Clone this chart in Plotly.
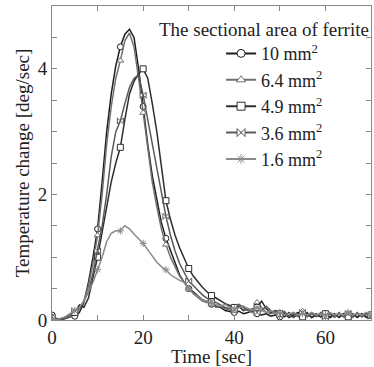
import plotly.graph_objects as go

time_s = list(range(0, 71))

area_10 = [0.08, 0.02, 0.0, 0.03, 0.05, 0.06, 0.12, 0.28, 0.6, 1.0,
           1.45, 2.2, 3.0, 3.6, 4.05, 4.35, 4.55, 4.63, 4.5, 4.0,
           3.4, 2.8, 2.3, 1.9, 1.55, 1.3, 1.1, 0.9, 0.72, 0.6,
           0.5, 0.45, 0.38, 0.32, 0.3, 0.25, 0.22, 0.2, 0.15, 0.14,
           0.12, 0.14, 0.1, 0.12, 0.15, 0.1, 0.08, 0.1, 0.06, 0.08,
           0.05, 0.1, 0.04, 0.08, 0.12, 0.05, 0.1, 0.04, 0.08, 0.05,
           0.1, 0.04, 0.08, 0.05, 0.1, 0.04, 0.08, 0.05, 0.1, 0.04, 0.08]

area_6_4 = [0.05, 0.0, 0.02, 0.04, 0.06, 0.1, 0.18, 0.3, 0.55, 0.9,
            1.35, 2.0, 2.8, 3.4, 3.85, 4.13, 4.45, 4.57, 4.35, 3.85,
            3.3, 2.7, 2.2, 1.8, 1.45, 1.2, 1.0, 0.85, 0.7, 0.6,
            0.5, 0.42, 0.36, 0.3, 0.28, 0.25, 0.2, 0.22, 0.18, 0.15,
            0.14, 0.2, 0.22, 0.15, 0.12, 0.28, 0.2, 0.12, 0.1, 0.12,
            0.08, 0.14, 0.06, 0.12, 0.05, 0.14, 0.06, 0.12, 0.05, 0.1,
            0.05, 0.1, 0.04, 0.1, 0.05, 0.1, 0.04, 0.1, 0.05, 0.1, 0.05]

area_4_9 = [0.03, 0.0, 0.02, 0.05, 0.1, 0.12, 0.24, 0.2, 0.35, 0.65,
            1.0, 1.4, 1.8, 2.2, 2.5, 2.75, 3.2, 3.6, 3.8, 3.92,
            4.0, 3.85, 3.45, 3.0, 2.45, 1.9, 1.6, 1.35, 1.15, 0.97,
            0.82, 0.7, 0.6, 0.52, 0.45, 0.39, 0.35, 0.3, 0.26, 0.23,
            0.2, 0.22, 0.15, 0.18, 0.14, 0.2, 0.3, 0.18, 0.12, 0.15,
            0.1, 0.05, 0.12, 0.04, 0.1, 0.05, 0.12, 0.04, 0.1, 0.05,
            0.1, 0.05, 0.1, 0.04, 0.1, 0.05, 0.1, 0.04, 0.1, 0.05, 0.08]

area_3_6 = [0.05, 0.02, 0.0, 0.04, 0.08, 0.15, 0.2, 0.3, 0.45, 0.75,
            1.1, 1.5, 2.0, 2.6, 3.0, 3.17, 3.45, 3.7, 3.85, 3.9,
            3.58, 3.2, 2.8, 2.4, 2.0, 1.65, 1.35, 1.1, 0.9, 0.75,
            0.62, 0.55, 0.48, 0.4, 0.35, 0.3, 0.28, 0.24, 0.2, 0.18,
            0.16, 0.25, 0.2, 0.15, 0.18, 0.12, 0.15, 0.22, 0.15, 0.1,
            0.08, 0.12, 0.05, 0.1, 0.06, 0.12, 0.05, 0.1, 0.06, 0.12,
            0.05, 0.1, 0.06, 0.12, 0.05, 0.1, 0.06, 0.12, 0.05, 0.1, 0.06]

area_1_6 = [0.02, 0.0, 0.03, 0.05, 0.1, 0.15, 0.2, 0.3, 0.45, 0.6,
            0.8, 1.0, 1.25, 1.38, 1.42, 1.42, 1.5, 1.45, 1.37, 1.3,
            1.22, 1.12, 1.02, 0.92, 0.85, 0.8, 0.72, 0.67, 0.63, 0.6,
            0.5, 0.42, 0.38, 0.32, 0.3, 0.27, 0.24, 0.22, 0.25, 0.2,
            0.18, 0.2, 0.22, 0.18, 0.15, 0.2, 0.15, 0.12, 0.15, 0.1,
            0.12, 0.08, 0.1, 0.12, 0.08, 0.1, 0.08, 0.12, 0.08, 0.1,
            0.08, 0.12, 0.08, 0.1, 0.08, 0.12, 0.08, 0.1, 0.08, 0.12, 0.08]

series_labels = ["10 mm<sup>2</sup>", "6.4 mm<sup>2</sup>", "4.9 mm<sup>2</sup>",
                 "3.6 mm<sup>2</sup>", "1.6 mm<sup>2</sup>"]
legend_title = "The sectional area of ferrite"
x_ticks = [0, 20, 40, 60]
y_ticks = [0, 2, 4]

series = [area_10, area_6_4, area_4_9, area_3_6, area_1_6]
colors = ["#1e1e1e", "#707070", "#2e2e2e", "#5a5a5a", "#8a8a8a"]
symbols = ["circle", "triangle-up", "square", "bowtie", "asterisk"]
fills = ["white", "white", "white", "white", "#8a8a8a"]

FONT = "Times New Roman, Liberation Serif, serif"
fig = go.Figure()
for vals, col, sym, fc in zip(series, colors, symbols, fills):
    fig.add_trace(go.Scatter(x=time_s, y=vals, mode="lines", showlegend=False,
                             line=dict(color=col, width=1.5)))
    mx = [t for i, t in enumerate(time_s) if i % 5 == 0]
    my = [v for i, v in enumerate(vals) if i % 5 == 0]
    fig.add_trace(go.Scatter(x=mx, y=my, mode="markers", showlegend=False,
                             marker=dict(symbol=sym, size=6, color=fc,
                                         line=dict(color=col, width=1))))
for lab, col, sym, fc in zip(series_labels, colors, symbols, fills):
    fig.add_trace(go.Scatter(x=[None], y=[None], mode="lines+markers", name=lab,
                             line=dict(color=col, width=2),
                             marker=dict(symbol=sym, size=8, color=fc,
                                         line=dict(color=col, width=1))))

xt = list(range(0, 71, 10))
yt = [i * 0.5 for i in range(0, 11)]
fig.update_layout(
    width=374, height=367,
    margin=dict(l=52, r=2, t=6, b=42),
    paper_bgcolor="white", plot_bgcolor="white",
    font=dict(family=FONT, size=19, color="#222"),
    showlegend=True,
    legend=dict(x=0.53, y=0.907, xanchor="left", yanchor="top",
                bgcolor="rgba(0,0,0,0)", font=dict(size=18), tracegroupgap=0),
    annotations=[dict(text=legend_title, x=1.0, y=0.965, xref="paper", yref="paper",
                      xanchor="right", yanchor="top", showarrow=False,
                      font=dict(size=19, family=FONT, color="#222"))],
)
fig.update_xaxes(range=[0, 70], tickmode="array", tickvals=xt,
                 ticktext=[str(v) if v in x_ticks else "" for v in xt],
                 ticks="inside", ticklen=5, tickcolor="#888", showline=True,
                 linecolor="#888", linewidth=1, mirror="ticks", showgrid=False,
                 zeroline=False,
                 title=dict(text="Time [sec]", standoff=4, font=dict(size=19, family=FONT)))
fig.update_yaxes(range=[0, 5], tickmode="array", tickvals=yt,
                 ticktext=[str(int(v)) if v in y_ticks else "" for v in yt],
                 ticks="inside", ticklen=5, tickcolor="#888", showline=True,
                 linecolor="#888", linewidth=1, mirror="ticks", showgrid=False,
                 zeroline=False,
                 title=dict(text="Temperature change [deg/sec]", standoff=3,
                            font=dict(size=19, family=FONT)))
fig.write_html("out.html")
